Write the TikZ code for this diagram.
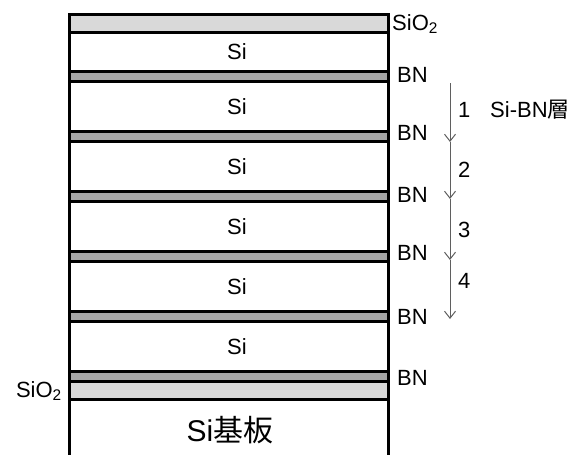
\documentclass[tikz,border=0pt]{standalone}
\usepackage{fontspec}
\setmainfont{Liberation Sans}
\newfontfamily\jfont{Noto Sans CJK JP}
\usepackage{tikz}
\usetikzlibrary{positioning, arrows.meta}

\definecolor{oxide}{HTML}{D9D9D9}
\definecolor{nitride}{HTML}{A6A6A6}
\definecolor{flowgray}{HTML}{5F5F5F}

\begin{document}
\begin{tikzpicture}[x=1pt, y=-1pt,
  wall/.style={line width=3pt},
  lbl/.style={inner sep=0pt, font=\fontsize{22}{24}\selectfont},
  flow/.style={draw=flowgray, line width=1pt, -{Straight Barb[length=7pt, width=11pt]}}]
\useasboundingbox (0,0) rectangle (572,455);
% 层
\filldraw[fill=oxide, wall] (69,14.5) rectangle (388,32.5);
\foreach \y in {71.5,131.5,191.5,251.5,311.5,371.5}
  \filldraw[fill=nitride, wall] (69,\y) rectangle (388,\y+10);
\filldraw[fill=oxide, wall] (69,381.5) rectangle (388,399.5);
\draw[wall] (69,14.5) -- (69,455) (388,14.5) -- (388,455);
% 标签
\foreach \y [count=\i] in {52,106.5,166.5,226.5,286.5,347}
  \node[lbl] (si\i) at (237,\y) {Si};
\foreach \y [count=\i] in {75,133,195,253,317,378}
  \node[lbl, anchor=west] (bn\i) at (397,\y) {BN};
\node[lbl, anchor=base west] (oxtop) at (392,30) {SiO\textsubscript{2}};
\node[lbl, anchor=base east] (oxbot) at (62,397) {SiO\textsubscript{2}};
\node[inner sep=0pt, font=\fontsize{30}{32}\selectfont] (sub) at (230,430) {Si{\jfont 基板}};
% 周期
\coordinate (a0) at (450,83);
\coordinate (a1) at (450,142);
\coordinate (a2) at (450,199);
\coordinate (a3) at (450,260);
\coordinate (a4) at (450,319);
\path
(a0) edge[flow] (a1)
(a1) edge[flow] (a2)
(a2) edge[flow] (a3)
(a3) edge[flow] (a4);
\node[lbl, anchor=west] (n1) at (458,110) {1};
\node[lbl, anchor=west] (n2) at (458,170) {2};
\node[lbl, anchor=west] (n3) at (458,230) {3};
\node[lbl, anchor=west] (n4) at (458,281) {4};
\node[lbl, anchor=west] (pair) at (490,110) {Si-BN{\jfont 層}};
\end{tikzpicture}
\end{document}
